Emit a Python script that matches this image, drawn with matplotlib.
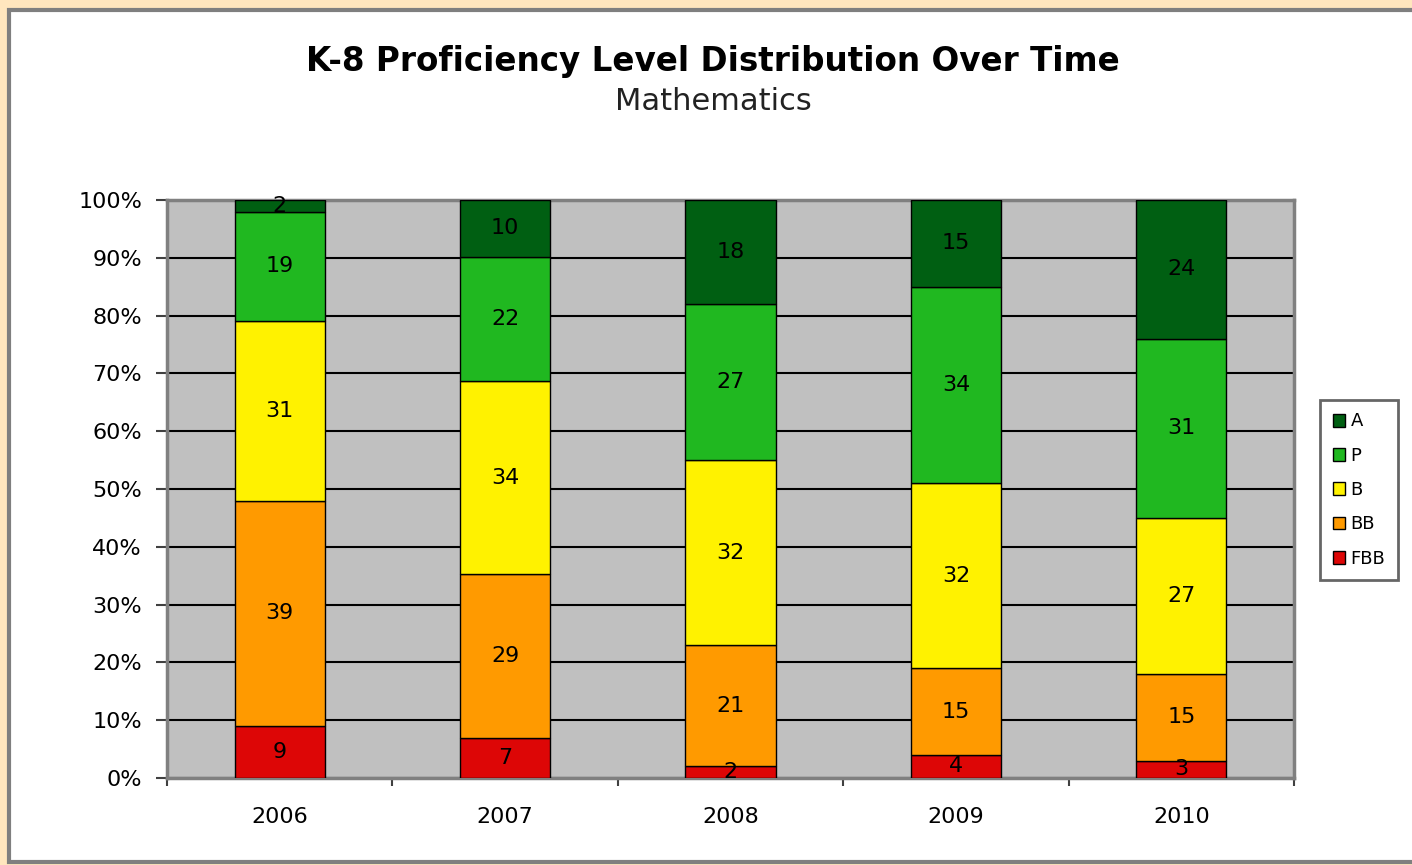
import matplotlib.pyplot as plt
import matplotlib.patches as mpatches
from matplotlib.ticker import PercentFormatter
import numpy as np

# values (counts per proficiency level)
years = ['2006', '2007', '2008', '2009', '2010']
fbb = [9, 7, 2, 4, 3]
bb = [39, 29, 21, 15, 15]
b = [31, 34, 32, 32, 27]
p = [19, 22, 27, 34, 31]
a = [2, 10, 18, 15, 24]

levels = ['FBB', 'BB', 'B', 'P', 'A']
series = [fbb, bb, b, p, a]
colors = ['#DD0606', '#FF9A00', '#FFF200', '#20B820', '#005F12']

fig = plt.figure(figsize=(14.12, 8.65), dpi=100)
fig.patch.set_facecolor('#FFE6BE')

# white chart panel
panel = mpatches.Rectangle((9 / 1412, 3 / 865), 1.2, 852 / 865, transform=fig.transFigure,
                           facecolor='white', edgecolor='#7F7F7F', linewidth=3, zorder=-10)
fig.patches.append(panel)

ax = fig.add_axes([167 / 1412, 87 / 865, 1127 / 1412, 578 / 865])
ax.set_facecolor('#C0C0C0')

x = np.arange(len(years))
totals = np.sum(series, axis=0)
bottom = np.zeros(len(years))
for name, vals, col in zip(levels, series, colors):
    vals = np.array(vals, dtype=float)
    pct = vals / totals * 100
    ax.bar(x, pct, width=0.4, bottom=bottom, color=col, edgecolor='black',
           linewidth=1, label=name, zorder=3)
    for xi, yb, h, v in zip(x, bottom, pct, vals):
        ax.text(xi, yb + h / 2, str(int(v)), ha='center', va='center',
                fontsize=16, color='black', zorder=4)
    bottom += pct

ax.set_xlim(-0.5, len(years) - 0.5)
ax.set_ylim(0, 100)
ax.set_yticks(np.arange(0, 101, 10))
ax.yaxis.set_major_formatter(PercentFormatter(decimals=0))
ax.grid(axis='y', color='black', linewidth=1.5, zorder=1)
ax.set_axisbelow(True)

ax.set_xticks(x)
ax.set_xticklabels(years)
ax.set_xticks(np.arange(-0.5, len(years), 1), minor=True)
ax.tick_params(axis='x', which='major', length=0, pad=21, labelsize=16)
ax.tick_params(axis='x', which='minor', length=6, width=1.5, color='#404040')
ax.tick_params(axis='y', length=8, width=1.5, color='#404040', labelsize=16, pad=10)

for s in ax.spines.values():
    s.set_color('#808080')
    s.set_linewidth(2.5)

fig.text(713 / 1412, 1 - 62 / 865, 'K-8 Proficiency Level Distribution Over Time',
         ha='center', va='center', fontsize=23.5, fontweight='bold')
fig.text(713 / 1412, 1 - 102 / 865, 'Mathematics', ha='center', va='center',
         fontsize=22, color='#222222')

handles, labels = ax.get_legend_handles_labels()
leg = fig.legend(handles[::-1], labels[::-1], loc='center',
                 bbox_to_anchor=(1359 / 1412, 1 - 490 / 865),
                 fontsize=13, frameon=True, fancybox=False,
                 handlelength=0.7, handleheight=0.7, handletextpad=0.3,
                 labelspacing=0.9, borderpad=0.7, borderaxespad=0)
leg.get_frame().set_edgecolor('#404040')
leg.get_frame().set_linewidth(2)

fig.savefig('out.png', dpi=100, facecolor=fig.get_facecolor())
